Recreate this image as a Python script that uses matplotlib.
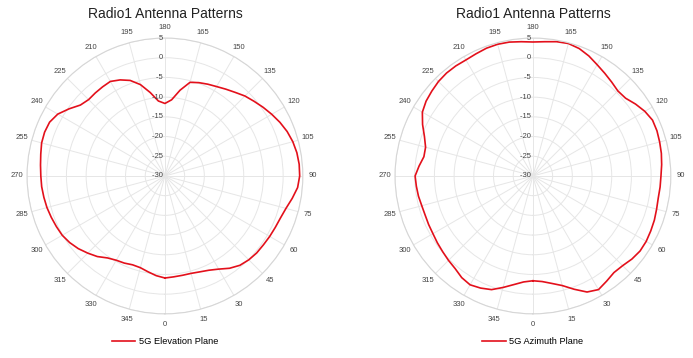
import numpy as np
import matplotlib
matplotlib.use("Agg")
import matplotlib.pyplot as plt

plt.rcParams['font.family'] = ['Liberation Sans', 'DejaVu Sans']

titulo = "Radio1 Antenna Patterns"
angulos = list(range(0, 360, 5))

elevacion = [-4.1, -4.3, -4.4, -4.4, -4.1, -3.6, -2.7, -1.4, -0.4, 0.1, 0.4, 0.5,
             0.7, 0.9, 1.2, 1.8, 2.8, 3.8, 4.2, 4.2, 4.0, 3.6, 3.0, 2.2,
             1.3, 0.4, -0.5, -1.3, -2.3, -3.1, -3.8, -4.3, -4.8, -5.4, -7.9, -10.6,
             -11.6, -10.9, -8.5, -6.0, -4.2, -3.1, -2.3, -2.4, -2.5, -2.6, -2.0, -0.3,
             1.4, 2.3, 2.5, 2.4, 2.0, 1.7, 1.5, 1.4, 1.2, 1.0, 0.7, 0.4,
             0.1, -0.5, -1.3, -2.3, -3.3, -4.6, -5.3, -5.6, -6.0, -5.9, -5.3, -4.6]

azimut = [-3.4, -3.1, -2.3, -1.2, 0.6, 2.5, 3.3, 2.6, 2.0, 2.2, 2.8, 3.2,
          3.2, 3.0, 2.8, 2.5, 2.3, 2.4, 2.5, 2.8, 3.1, 3.3, 3.5, 3.5,
          2.8, 1.8, 0.7, 0.5, 1.1, 1.8, 2.6, 3.6, 4.4, 4.8, 4.6, 4.2,
          4.0, 4.2, 4.5, 4.6, 4.5, 4.2, 4.0, 4.1, 4.1, 3.9, 3.5, 3.1,
          2.4, 0.9, -0.7, -1.8, -1.9, -1.0, -0.1, -0.3, -0.5, -0.8, -0.9, -0.8,
          -0.7, -0.4, -0.1, 0.3, 0.7, 1.5, 1.9, 1.4, 0.7, -0.7, -2.0, -3.0]

ticks_theta = list(range(0, 360, 15))
ticks_r = [-30, -25, -20, -15, -10, -5, 0, 5]

series = [("5G Elevation Plane", elevacion), ("5G Azimuth Plane", azimut)]
posiciones = [0.039, 0.570]

color_linea = "#e3101b"
color_grid = "#e6e6e6"
color_texto = "#444444"


def grafico_polar(fig, x0, nombre, valores):
    ax = fig.add_axes([x0, 0.123, 0.398, 0.771], projection="polar")
    ax.set_theta_zero_location("S")
    ax.set_theta_direction(1)
    ax.set_ylim(ticks_r[0], ticks_r[-1])

    theta = np.deg2rad(angulos + [angulos[0]])
    r = valores + [valores[0]]
    ax.plot(theta, r, color=color_linea, lw=1.2, label=nombre)

    ax.set_xticks(np.deg2rad(ticks_theta))
    ax.set_xticklabels([str(t) for t in ticks_theta], fontsize=5.5, color=color_texto)
    ax.tick_params(axis="x", pad=0.5, length=0)
    ax.set_yticks(ticks_r)
    ax.set_yticklabels([])
    for v in ticks_r:
        ax.text(np.pi, v, str(v) + " ", ha="right", va="center",
                fontsize=5.5, color=color_texto)
    ax.grid(True, color=color_grid, lw=0.7)
    ax.spines["polar"].set_color("#d6d6d6")
    ax.spines["polar"].set_linewidth(0.8)

    fig.text(x0 + 0.199, 1 - 14 / 358, titulo, ha="center", va="center",
             fontsize=10, color="#222222")
    ax.legend(loc="upper center", bbox_to_anchor=(0.5, -0.055), frameon=False,
              fontsize=6.7, handlelength=2.5, handletextpad=0.4)
    return ax


fig = plt.figure(figsize=(6.93, 3.58), dpi=100)
for (nombre, valores), x0 in zip(series, posiciones):
    grafico_polar(fig, x0, nombre, valores)

fig.savefig("out.png", dpi=100, facecolor="white")
